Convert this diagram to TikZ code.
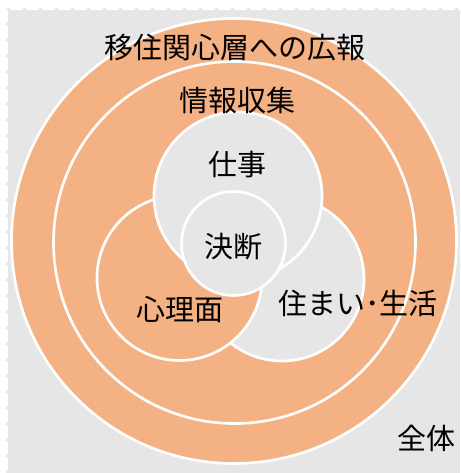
\documentclass[tikz,border=0pt]{standalone}
\usepackage{fontspec}
\newfontfamily\cjk{Noto Sans CJK JP}
\definecolor{bgGray}{HTML}{E6E6E6}
\definecolor{ringOrange}{HTML}{F4B183}
\begin{document}
\begin{tikzpicture}[x=1pt,y=-1pt,
  ring/.style={circle,draw=white,line width=2.7pt,inner sep=0pt,outer sep=0pt},
  orangering/.style={ring,fill=ringOrange},
  grayring/.style={ring,fill=bgGray},
  lbl/.style={font=\cjk\fontsize{29}{35}\selectfont,text=black,inner sep=0pt}]
\useasboundingbox (0,0) rectangle (460,473);
\fill[white] (0,0) rectangle (460,473);
\fill[bgGray] (8,10) rectangle (460,473);
\draw[bgGray,line width=2pt,dash pattern=on 3pt off 13pt] (7,473) -- (7,9) -- (460,9);
\node[orangering,minimum size=445pt] (outer) at (234,241) {};
\node[orangering,minimum size=362pt] (info) at (234.5,242.5) {};
\node[grayring,minimum size=164pt] (live) at (282,279) {};
\node[orangering,minimum size=165pt] (mind) at (179.5,278) {};
\node[grayring,minimum size=168pt] (work) at (238,196) {};
\node[grayring,minimum size=104pt] (dec) at (233.5,243.5) {};
\node[lbl] (t1) at (235,48) {移住関心層への広報};
\node[lbl] (t2) at (237.5,100) {情報収集};
\node[lbl] (t3) at (237.5,165) {仕事};
\node[lbl] (t4) at (233.5,247) {決断};
\node[lbl] (t5) at (180,310) {心理面};
\node[lbl] (t6) at (358,303) {住まい･生活};
\node[lbl] (t7) at (426,438) {全体};
\end{tikzpicture}
\end{document}
